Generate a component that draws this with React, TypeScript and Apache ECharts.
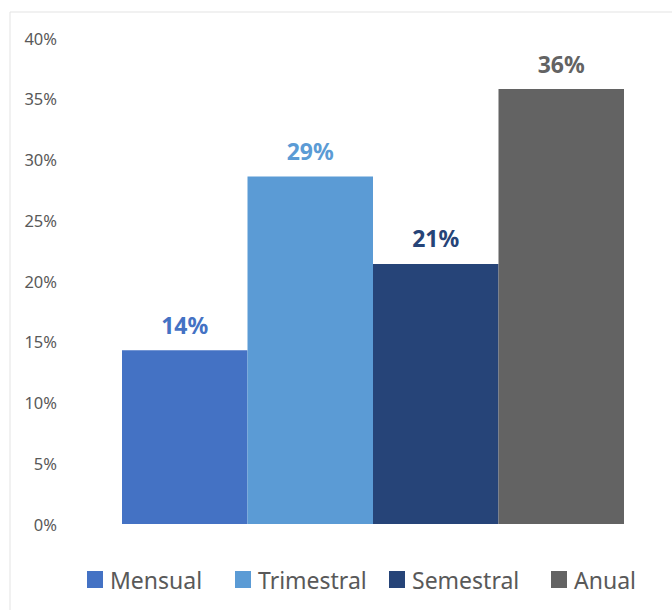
import React, { useEffect, useRef } from "react";
import * as echarts from "echarts";

const seriesNames = ["Mensual", "Trimestral", "Semestral", "Anual"];
const seriesValues = [0.143, 0.286, 0.214, 0.358];
const seriesColors = ["#4472C4", "#5B9BD5", "#264478", "#636363"];
const yTicks = [0, 0.05, 0.1, 0.15, 0.2, 0.25, 0.3, 0.35, 0.4];
const legendLefts = [82, 230, 384, 546];

export default function App() {
  const ref = useRef<HTMLDivElement>(null);
  useEffect(() => {
    if (!ref.current) return;
    const chart = echarts.init(ref.current, null, { renderer: "svg" });
    const font = "'Noto Sans', sans-serif";
    chart.setOption({
      animation: false,
      backgroundColor: "#ffffff",
      textStyle: { fontFamily: font },
      graphic: [
        {
          type: "rect",
          shape: { x: 10, y: 12, width: 720, height: 700 },
          style: { fill: "none", stroke: "#e3e3e3", lineWidth: 1 },
          silent: true,
          z: -1,
        },
      ],
      grid: { left: 74, top: 38, width: 608, height: 486, containLabel: false },
      xAxis: {
        type: "category",
        data: [""],
        axisLine: { show: false },
        axisTick: { show: false },
        axisLabel: { show: false },
      },
      yAxis: {
        type: "value",
        min: yTicks[0],
        max: yTicks[yTicks.length - 1],
        interval: 0.05,
        splitLine: { show: false },
        axisLine: { show: false },
        axisTick: { show: false },
        axisLabel: {
          color: "#595959",
          fontSize: 16.5,
          fontFamily: font,
          margin: 17,
          formatter: (v: number) => `${Math.round(v * 100)}%`,
        },
      },
      legend: seriesNames.map((name, i) => ({
        top: 563,
        left: legendLefts[i],
        itemWidth: 16,
        itemHeight: 17,
        icon: "rect",
        textStyle: { color: "#595959", fontSize: 23, fontFamily: font, padding: [0, 0, 0, 2] },
        data: [name],
      })),
      series: seriesNames.map((name, i) => ({
        name,
        type: "bar",
        data: [seriesValues[i]],
        barWidth: 125.5,
        barGap: "0%",
        itemStyle: { color: seriesColors[i] },
        label: {
          show: true,
          position: "top",
          distance: 14,
          color: seriesColors[i],
          fontSize: 23,
          fontWeight: "bold",
          fontFamily: font,
          formatter: (p: any) => `${Math.round(p.value * 100)}%`,
        },
      })),
    });
    return () => chart.dispose();
  }, []);
  return (
    <div
      ref={ref}
      style={{ position: "fixed", left: 0, top: 0, width: 672, height: 610 }}
    />
  );
}
